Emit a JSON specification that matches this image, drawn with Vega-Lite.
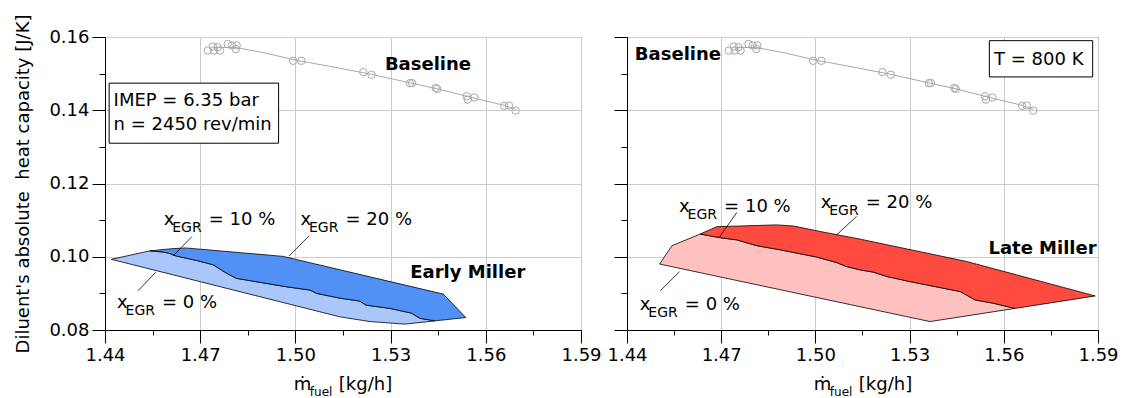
{
  "$schema": "https://vega.github.io/schema/vega-lite/v6.json",
  "padding": {"left": 14, "top": 13, "right": 5, "bottom": 2},
  "bounds": "flush",
  "spacing": 46,
  "config": {
    "font": "DejaVu Sans",
    "view": {"stroke": "#000", "strokeWidth": 1},
    "axis": {
      "domainColor": "#000", "tickColor": "#000", "labelColor": "#000",
      "labelFont": "DejaVu Sans", "labelFontSize": 18,
      "titleFont": "DejaVu Sans", "titleFontSize": 18, "titleFontWeight": "normal", "titleColor": "#000",
      "gridColor": "#cccccc", "gridWidth": 1
    },
    "text": {"font": "DejaVu Sans", "fontSize": 18, "color": "#000"}
  },
  "datasets": {
    "base": [
      {"m": 1.4724, "c": 0.1563}, {"m": 1.4740, "c": 0.1574}, {"m": 1.4743, "c": 0.1563}, {"m": 1.4762, "c": 0.1563},
      {"m": 1.4755, "c": 0.1572}, {"m": 1.4787, "c": 0.1581}, {"m": 1.4800, "c": 0.1577}, {"m": 1.4812, "c": 0.1567},
      {"m": 1.4815, "c": 0.1577}, {"m": 1.4993, "c": 0.1535}, {"m": 1.5019, "c": 0.1535}, {"m": 1.5214, "c": 0.1504},
      {"m": 1.5240, "c": 0.1497}, {"m": 1.5361, "c": 0.1474}, {"m": 1.5368, "c": 0.1474}, {"m": 1.5442, "c": 0.1461},
      {"m": 1.5447, "c": 0.1458}, {"m": 1.5540, "c": 0.1438}, {"m": 1.5543, "c": 0.1429}, {"m": 1.5564, "c": 0.1435},
      {"m": 1.5658, "c": 0.1412}, {"m": 1.5673, "c": 0.1413}, {"m": 1.5694, "c": 0.1399}
    ],
    "fit": [
      {"m": 1.4745, "c": 0.1572}, {"m": 1.4815, "c": 0.1571}, {"m": 1.4900, "c": 0.1557}, {"m": 1.5000, "c": 0.1537},
      {"m": 1.5120, "c": 0.1518}, {"m": 1.5240, "c": 0.1498}, {"m": 1.5365, "c": 0.1474}, {"m": 1.5445, "c": 0.1459},
      {"m": 1.5550, "c": 0.1436}, {"m": 1.5660, "c": 0.1413}, {"m": 1.5694, "c": 0.1402}
    ],
    "poly": [
      {"panel": "early", "band": "lo", "i": 0, "m": 1.4420, "c": 0.0993},
      {"panel": "early", "band": "lo", "i": 1, "m": 1.4541, "c": 0.1016},
      {"panel": "early", "band": "lo", "i": 2, "m": 1.4583, "c": 0.1013},
      {"panel": "early", "band": "lo", "i": 3, "m": 1.4600, "c": 0.1010},
      {"panel": "early", "band": "lo", "i": 4, "m": 1.4625, "c": 0.1002},
      {"panel": "early", "band": "lo", "i": 5, "m": 1.4688, "c": 0.0990},
      {"panel": "early", "band": "lo", "i": 6, "m": 1.4741, "c": 0.0978},
      {"panel": "early", "band": "lo", "i": 7, "m": 1.4783, "c": 0.0955},
      {"panel": "early", "band": "lo", "i": 8, "m": 1.4814, "c": 0.0941},
      {"panel": "early", "band": "lo", "i": 9, "m": 1.4972, "c": 0.0918},
      {"panel": "early", "band": "lo", "i": 10, "m": 1.5046, "c": 0.0909},
      {"panel": "early", "band": "lo", "i": 11, "m": 1.5067, "c": 0.0900},
      {"panel": "early", "band": "lo", "i": 12, "m": 1.5140, "c": 0.0887},
      {"panel": "early", "band": "lo", "i": 13, "m": 1.5203, "c": 0.0879},
      {"panel": "early", "band": "lo", "i": 14, "m": 1.5222, "c": 0.0868},
      {"panel": "early", "band": "lo", "i": 15, "m": 1.5298, "c": 0.0859},
      {"panel": "early", "band": "lo", "i": 16, "m": 1.5366, "c": 0.0846},
      {"panel": "early", "band": "lo", "i": 17, "m": 1.5392, "c": 0.0832},
      {"panel": "early", "band": "lo", "i": 18, "m": 1.5440, "c": 0.0825},
      {"panel": "early", "band": "lo", "i": 19, "m": 1.5345, "c": 0.0816},
      {"panel": "early", "band": "lo", "i": 20, "m": 1.5235, "c": 0.0823},
      {"panel": "early", "band": "lo", "i": 21, "m": 1.5140, "c": 0.0836},

      {"panel": "early", "band": "hi", "i": 0, "m": 1.4541, "c": 0.1016},
      {"panel": "early", "band": "hi", "i": 1, "m": 1.4610, "c": 0.1022},
      {"panel": "early", "band": "hi", "i": 2, "m": 1.4654, "c": 0.1024},
      {"panel": "early", "band": "hi", "i": 3, "m": 1.4709, "c": 0.1020},
      {"panel": "early", "band": "hi", "i": 4, "m": 1.4961, "c": 0.1001},
      {"panel": "early", "band": "hi", "i": 5, "m": 1.5466, "c": 0.0898},
      {"panel": "early", "band": "hi", "i": 6, "m": 1.5537, "c": 0.0834},
      {"panel": "early", "band": "hi", "i": 7, "m": 1.5440, "c": 0.0825},
      {"panel": "early", "band": "hi", "i": 8, "m": 1.5392, "c": 0.0832},
      {"panel": "early", "band": "hi", "i": 9, "m": 1.5366, "c": 0.0846},
      {"panel": "early", "band": "hi", "i": 10, "m": 1.5298, "c": 0.0859},
      {"panel": "early", "band": "hi", "i": 11, "m": 1.5222, "c": 0.0868},
      {"panel": "early", "band": "hi", "i": 12, "m": 1.5203, "c": 0.0879},
      {"panel": "early", "band": "hi", "i": 13, "m": 1.5140, "c": 0.0887},
      {"panel": "early", "band": "hi", "i": 14, "m": 1.5067, "c": 0.0900},
      {"panel": "early", "band": "hi", "i": 15, "m": 1.5046, "c": 0.0909},
      {"panel": "early", "band": "hi", "i": 16, "m": 1.4972, "c": 0.0918},
      {"panel": "early", "band": "hi", "i": 17, "m": 1.4814, "c": 0.0941},
      {"panel": "early", "band": "hi", "i": 18, "m": 1.4783, "c": 0.0955},
      {"panel": "early", "band": "hi", "i": 19, "m": 1.4741, "c": 0.0978},
      {"panel": "early", "band": "hi", "i": 20, "m": 1.4688, "c": 0.0990},
      {"panel": "early", "band": "hi", "i": 21, "m": 1.4625, "c": 0.1002},
      {"panel": "early", "band": "hi", "i": 22, "m": 1.4600, "c": 0.1010},
      {"panel": "early", "band": "hi", "i": 23, "m": 1.4583, "c": 0.1013},

      {"panel": "late", "band": "lo", "i": 0, "m": 1.4504, "c": 0.0980},
      {"panel": "late", "band": "lo", "i": 1, "m": 1.4543, "c": 0.1030},
      {"panel": "late", "band": "lo", "i": 2, "m": 1.4633, "c": 0.1062},
      {"panel": "late", "band": "lo", "i": 3, "m": 1.4697, "c": 0.1052},
      {"panel": "late", "band": "lo", "i": 4, "m": 1.4750, "c": 0.1046},
      {"panel": "late", "band": "lo", "i": 5, "m": 1.4814, "c": 0.1030},
      {"panel": "late", "band": "lo", "i": 6, "m": 1.4888, "c": 0.1019},
      {"panel": "late", "band": "lo", "i": 7, "m": 1.5005, "c": 0.0999},
      {"panel": "late", "band": "lo", "i": 8, "m": 1.5068, "c": 0.0984},
      {"panel": "late", "band": "lo", "i": 9, "m": 1.5100, "c": 0.0973},
      {"panel": "late", "band": "lo", "i": 10, "m": 1.5143, "c": 0.0964},
      {"panel": "late", "band": "lo", "i": 11, "m": 1.5185, "c": 0.0958},
      {"panel": "late", "band": "lo", "i": 12, "m": 1.5228, "c": 0.0946},
      {"panel": "late", "band": "lo", "i": 13, "m": 1.5302, "c": 0.0932},
      {"panel": "late", "band": "lo", "i": 14, "m": 1.5355, "c": 0.0923},
      {"panel": "late", "band": "lo", "i": 15, "m": 1.5461, "c": 0.0905},
      {"panel": "late", "band": "lo", "i": 16, "m": 1.5509, "c": 0.0882},
      {"panel": "late", "band": "lo", "i": 17, "m": 1.5567, "c": 0.0873},
      {"panel": "late", "band": "lo", "i": 18, "m": 1.5636, "c": 0.0859},
      {"panel": "late", "band": "lo", "i": 19, "m": 1.5365, "c": 0.0823},

      {"panel": "late", "band": "hi", "i": 0, "m": 1.4633, "c": 0.1062},
      {"panel": "late", "band": "hi", "i": 1, "m": 1.4686, "c": 0.1082},
      {"panel": "late", "band": "hi", "i": 2, "m": 1.4877, "c": 0.1087},
      {"panel": "late", "band": "hi", "i": 3, "m": 1.4930, "c": 0.1084},
      {"panel": "late", "band": "hi", "i": 4, "m": 1.5015, "c": 0.1069},
      {"panel": "late", "band": "hi", "i": 5, "m": 1.5143, "c": 0.1048},
      {"panel": "late", "band": "hi", "i": 6, "m": 1.5482, "c": 0.0987},
      {"panel": "late", "band": "hi", "i": 7, "m": 1.5891, "c": 0.0893},
      {"panel": "late", "band": "hi", "i": 8, "m": 1.5636, "c": 0.0859},
      {"panel": "late", "band": "hi", "i": 9, "m": 1.5567, "c": 0.0873},
      {"panel": "late", "band": "hi", "i": 10, "m": 1.5509, "c": 0.0882},
      {"panel": "late", "band": "hi", "i": 11, "m": 1.5461, "c": 0.0905},
      {"panel": "late", "band": "hi", "i": 12, "m": 1.5355, "c": 0.0923},
      {"panel": "late", "band": "hi", "i": 13, "m": 1.5302, "c": 0.0932},
      {"panel": "late", "band": "hi", "i": 14, "m": 1.5228, "c": 0.0946},
      {"panel": "late", "band": "hi", "i": 15, "m": 1.5185, "c": 0.0958},
      {"panel": "late", "band": "hi", "i": 16, "m": 1.5143, "c": 0.0964},
      {"panel": "late", "band": "hi", "i": 17, "m": 1.5100, "c": 0.0973},
      {"panel": "late", "band": "hi", "i": 18, "m": 1.5068, "c": 0.0984},
      {"panel": "late", "band": "hi", "i": 19, "m": 1.5005, "c": 0.0999},
      {"panel": "late", "band": "hi", "i": 20, "m": 1.4888, "c": 0.1019},
      {"panel": "late", "band": "hi", "i": 21, "m": 1.4814, "c": 0.1030},
      {"panel": "late", "band": "hi", "i": 22, "m": 1.4750, "c": 0.1046},
      {"panel": "late", "band": "hi", "i": 23, "m": 1.4697, "c": 0.1052}
    ],
    "egr": [
      {"panel": "early", "m": 1.4585, "c": 0.1087, "t": "= 10 %"},
      {"panel": "early", "m": 1.5016, "c": 0.1087, "t": "= 20 %"},
      {"panel": "early", "m": 1.4438, "c": 0.0860, "t": "= 0 %"},
      {"panel": "late", "m": 1.4566, "c": 0.1122, "t": "= 10 %"},
      {"panel": "late", "m": 1.5017, "c": 0.1133, "t": "= 20 %"},
      {"panel": "late", "m": 1.4441, "c": 0.0855, "t": "= 0 %"}
    ],
    "lead": [
      {"panel": "early", "m": 1.4674, "c": 0.1055, "m2": 1.4614, "c2": 0.1002},
      {"panel": "early", "m": 1.5043, "c": 0.1057, "m2": 1.4980, "c2": 0.1002},
      {"panel": "early", "m": 1.4560, "c": 0.0958, "m2": 1.4504, "c2": 0.0907},
      {"panel": "late", "m": 1.4750, "c": 0.1121, "m2": 1.4692, "c2": 0.1051},
      {"panel": "late", "m": 1.5131, "c": 0.1110, "m2": 1.5068, "c2": 0.1060},
      {"panel": "late", "m": 1.4567, "c": 0.0959, "m2": 1.4506, "c2": 0.0907}
    ],
    "boxes": [
      {"panel": "early", "m": 1.4413, "m2": 1.4947, "c": 0.1474, "c2": 0.1310},
      {"panel": "late", "m": 1.5554, "m2": 1.5883, "c": 0.1590, "c2": 0.1491}
    ],
    "notes": [
      {"panel": "early", "w": "bold", "m": 1.5282, "c": 0.1509, "t": "Baseline"},
      {"panel": "early", "w": "bold", "m": 1.5362, "c": 0.0942, "t": "Early Miller"},
      {"panel": "early", "w": "normal", "m": 1.4427, "c": 0.1412, "t": "IMEP = 6.35 bar"},
      {"panel": "early", "w": "normal", "m": 1.4427, "c": 0.1345, "t": "n = 2450 rev/min"},
      {"panel": "late", "w": "bold", "m": 1.4425, "c": 0.1538, "t": "Baseline"},
      {"panel": "late", "w": "bold", "m": 1.5551, "c": 0.1008, "t": "Late Miller"},
      {"panel": "late", "w": "normal", "m": 1.5569, "c": 0.1524, "t": "T = 800 K"}
    ],
    "xtitle": [
      {"m": 1.4995, "c": 0.0636}
    ]
  },
  "hconcat": [
    {
      "width": 476,
      "height": 293,
      "encoding": {
        "x": {
          "field": "m", "type": "quantitative",
          "scale": {"domain": [1.44, 1.59], "nice": false, "zero": false},
          "axis": {
            "title": null, "grid": true, "format": ".2f",
            "values": [1.44, 1.455, 1.47, 1.485, 1.5, 1.515, 1.53, 1.545, 1.56, 1.575, 1.59],
            "labelExpr": "abs(round(datum.value * 1000) % 30) == 0 ? datum.label : ''",
            "tickSize": {"condition": {"test": "abs(round(datum.value * 1000) % 30) == 0", "value": 13}, "value": 5},
            "gridOpacity": {"condition": {"test": "abs(round(datum.value * 1000) % 30) == 0", "value": 1}, "value": 0},
            "labelPadding": 3, "labelFlush": false, "labelOverlap": false
          }
        },
        "y": {
          "field": "c", "type": "quantitative",
          "scale": {"domain": [0.08, 0.16], "nice": false, "zero": false},
          "axis": {
            "title": "Diluent's absolute\u00a0 heat capacity [J/K]", "titlePadding": 16,
            "grid": true, "format": ".2f",
            "values": [0.08, 0.09, 0.1, 0.11, 0.12, 0.13, 0.14, 0.15, 0.16],
            "labelExpr": "round(datum.value * 100) % 2 == 0 ? datum.label : ''",
            "tickSize": {"condition": {"test": "round(datum.value * 100) % 2 == 0", "value": 13}, "value": 6},
            "gridOpacity": {"condition": {"test": "round(datum.value * 100) % 2 == 0", "value": 1}, "value": 0},
            "labelPadding": 3, "labelFlush": false, "labelOverlap": false
          }
        }
      },
      "layer": [
        {
          "data": {"name": "poly"},
          "transform": [{"filter": "datum.panel === 'early' && datum.band === 'lo'"}],
          "mark": {"type": "line", "interpolate": "linear-closed", "fill": "#a9c7fa", "stroke": "#000", "strokeWidth": 0.8},
          "encoding": {"order": {"field": "i", "type": "quantitative"}}
        },
        {
          "data": {"name": "poly"},
          "transform": [{"filter": "datum.panel === 'early' && datum.band === 'hi'"}],
          "mark": {"type": "line", "interpolate": "linear-closed", "fill": "#5191f6", "stroke": "#000", "strokeWidth": 0.8},
          "encoding": {"order": {"field": "i", "type": "quantitative"}}
        },
        {
          "data": {"name": "fit"},
          "mark": {"type": "line", "color": "#a8a8a8", "strokeWidth": 1},
          "encoding": {}
        },
        {
          "data": {"name": "base"},
          "mark": {"type": "point", "shape": "circle", "size": 55, "filled": false, "stroke": "#a8a8a8", "strokeWidth": 1, "opacity": 1},
          "encoding": {}
        },
        {
          "data": {"name": "lead"},
          "transform": [{"filter": "datum.panel === 'early'"}],
          "mark": {"type": "rule", "color": "#000", "strokeWidth": 0.8},
          "encoding": {"x2": {"field": "m2"}, "y2": {"field": "c2"}}
        },
        {
          "data": {"name": "egr"},
          "transform": [{"filter": "datum.panel === 'early'"}],
          "mark": {"type": "text", "text": "x", "align": "left", "baseline": "alphabetic", "fontSize": 18}
        },
        {
          "data": {"name": "egr"},
          "transform": [{"filter": "datum.panel === 'early'"}],
          "mark": {"type": "text", "text": "EGR", "align": "left", "baseline": "alphabetic", "fontSize": 14, "dx": 8.5, "dy": 7}
        },
        {
          "data": {"name": "egr"},
          "transform": [{"filter": "datum.panel === 'early'"}],
          "mark": {"type": "text", "align": "left", "baseline": "alphabetic", "fontSize": 18, "dx": 45},
          "encoding": {"text": {"field": "t"}}
        },
        {
          "data": {"name": "boxes"},
          "transform": [{"filter": "datum.panel === 'early'"}],
          "mark": {"type": "rect", "fill": "#fff", "stroke": "#000", "strokeWidth": 1},
          "encoding": {"x2": {"field": "m2"}, "y2": {"field": "c2"}}
        },
        {
          "data": {"name": "notes"},
          "transform": [{"filter": "datum.panel === 'early' && datum.w === 'bold'"}],
          "mark": {"type": "text", "align": "left", "baseline": "alphabetic", "fontSize": 18, "fontWeight": "bold"},
          "encoding": {"text": {"field": "t"}}
        },
        {
          "data": {"name": "notes"},
          "transform": [{"filter": "datum.panel === 'early' && datum.w === 'normal'"}],
          "mark": {"type": "text", "align": "left", "baseline": "alphabetic", "fontSize": 18},
          "encoding": {"text": {"field": "t"}}
        },
        {
          "data": {"name": "xtitle"},
          "mark": {"type": "text", "text": "\u1e41", "align": "left", "baseline": "alphabetic", "fontSize": 18}
        },
        {
          "data": {"name": "xtitle"},
          "mark": {"type": "text", "text": "fuel", "align": "left", "baseline": "alphabetic", "fontSize": 12, "dx": 16, "dy": 6}
        },
        {
          "data": {"name": "xtitle"},
          "mark": {"type": "text", "text": "[kg/h]", "align": "left", "baseline": "alphabetic", "fontSize": 18, "dx": 45}
        }
      ]
    },
    {
      "width": 471,
      "height": 293,
      "encoding": {
        "x": {
          "field": "m", "type": "quantitative",
          "scale": {"domain": [1.44, 1.59], "nice": false, "zero": false},
          "axis": {
            "title": null, "grid": true, "format": ".2f",
            "values": [1.44, 1.455, 1.47, 1.485, 1.5, 1.515, 1.53, 1.545, 1.56, 1.575, 1.59],
            "labelExpr": "abs(round(datum.value * 1000) % 30) == 0 ? datum.label : ''",
            "tickSize": {"condition": {"test": "abs(round(datum.value * 1000) % 30) == 0", "value": 13}, "value": 5},
            "gridOpacity": {"condition": {"test": "abs(round(datum.value * 1000) % 30) == 0", "value": 1}, "value": 0},
            "labelPadding": 3, "labelFlush": false, "labelOverlap": false
          }
        },
        "y": {
          "field": "c", "type": "quantitative",
          "scale": {"domain": [0.08, 0.16], "nice": false, "zero": false},
          "axis": {
            "title": null, "labels": false, "grid": true,
            "values": [0.08, 0.09, 0.1, 0.11, 0.12, 0.13, 0.14, 0.15, 0.16],
            "tickSize": {"condition": {"test": "round(datum.value * 100) % 2 == 0", "value": 13}, "value": 6},
            "gridOpacity": {"condition": {"test": "round(datum.value * 100) % 2 == 0", "value": 1}, "value": 0}
          }
        }
      },
      "layer": [
        {
          "data": {"name": "poly"},
          "transform": [{"filter": "datum.panel === 'late' && datum.band === 'lo'"}],
          "mark": {"type": "line", "interpolate": "linear-closed", "fill": "#ffc1bf", "stroke": "#000", "strokeWidth": 0.8},
          "encoding": {"order": {"field": "i", "type": "quantitative"}}
        },
        {
          "data": {"name": "poly"},
          "transform": [{"filter": "datum.panel === 'late' && datum.band === 'hi'"}],
          "mark": {"type": "line", "interpolate": "linear-closed", "fill": "#ff4a40", "stroke": "#000", "strokeWidth": 0.8},
          "encoding": {"order": {"field": "i", "type": "quantitative"}}
        },
        {
          "data": {"name": "fit"},
          "mark": {"type": "line", "color": "#a8a8a8", "strokeWidth": 1},
          "encoding": {}
        },
        {
          "data": {"name": "base"},
          "mark": {"type": "point", "shape": "circle", "size": 55, "filled": false, "stroke": "#a8a8a8", "strokeWidth": 1, "opacity": 1},
          "encoding": {}
        },
        {
          "data": {"name": "lead"},
          "transform": [{"filter": "datum.panel === 'late'"}],
          "mark": {"type": "rule", "color": "#000", "strokeWidth": 0.8},
          "encoding": {"x2": {"field": "m2"}, "y2": {"field": "c2"}}
        },
        {
          "data": {"name": "egr"},
          "transform": [{"filter": "datum.panel === 'late'"}],
          "mark": {"type": "text", "text": "x", "align": "left", "baseline": "alphabetic", "fontSize": 18}
        },
        {
          "data": {"name": "egr"},
          "transform": [{"filter": "datum.panel === 'late'"}],
          "mark": {"type": "text", "text": "EGR", "align": "left", "baseline": "alphabetic", "fontSize": 14, "dx": 8.5, "dy": 7}
        },
        {
          "data": {"name": "egr"},
          "transform": [{"filter": "datum.panel === 'late'"}],
          "mark": {"type": "text", "align": "left", "baseline": "alphabetic", "fontSize": 18, "dx": 45},
          "encoding": {"text": {"field": "t"}}
        },
        {
          "data": {"name": "boxes"},
          "transform": [{"filter": "datum.panel === 'late'"}],
          "mark": {"type": "rect", "fill": "#fff", "stroke": "#000", "strokeWidth": 1},
          "encoding": {"x2": {"field": "m2"}, "y2": {"field": "c2"}}
        },
        {
          "data": {"name": "notes"},
          "transform": [{"filter": "datum.panel === 'late' && datum.w === 'bold'"}],
          "mark": {"type": "text", "align": "left", "baseline": "alphabetic", "fontSize": 18, "fontWeight": "bold"},
          "encoding": {"text": {"field": "t"}}
        },
        {
          "data": {"name": "notes"},
          "transform": [{"filter": "datum.panel === 'late' && datum.w === 'normal'"}],
          "mark": {"type": "text", "align": "left", "baseline": "alphabetic", "fontSize": 18},
          "encoding": {"text": {"field": "t"}}
        },
        {
          "data": {"name": "xtitle"},
          "mark": {"type": "text", "text": "\u1e41", "align": "left", "baseline": "alphabetic", "fontSize": 18}
        },
        {
          "data": {"name": "xtitle"},
          "mark": {"type": "text", "text": "fuel", "align": "left", "baseline": "alphabetic", "fontSize": 12, "dx": 16, "dy": 6}
        },
        {
          "data": {"name": "xtitle"},
          "mark": {"type": "text", "text": "[kg/h]", "align": "left", "baseline": "alphabetic", "fontSize": 18, "dx": 45}
        }
      ]
    }
  ]
}
